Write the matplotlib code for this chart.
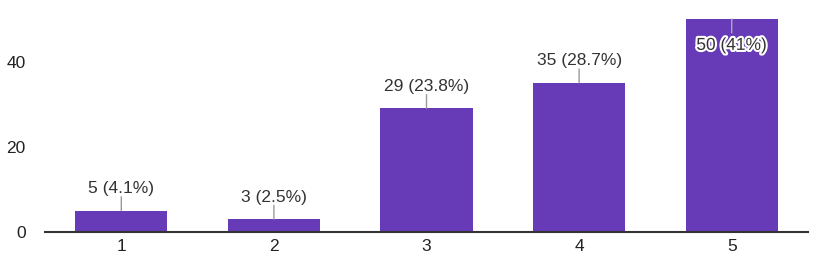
import matplotlib.pyplot as plt
import matplotlib.patheffects as pe

# ratings 1-5 and response counts
ratings = [1, 2, 3, 4, 5]
counts = [5, 3, 29, 35, 50]
labels = ['5 (4.1%)', '3 (2.5%)', '29 (23.8%)', '35 (28.7%)', '50 (41%)']
yticks = [0, 20, 40]

plt.rcParams['font.family'] = ['Liberation Sans', 'DejaVu Sans']

fig = plt.figure(figsize=(8.16, 2.61), dpi=100)
ax = fig.add_axes([45 / 816, 29 / 261, 763 / 816, 213 / 261])

ax.bar(ratings, counts, width=0.605, color='#673ab7', zorder=2)
ax.set_xlim(0.5, 5.5)
ax.set_ylim(0, 50)

ax.set_xticks(ratings)
ax.set_xticklabels([str(r) for r in ratings])
ax.set_yticks(yticks)
ax.tick_params(axis='both', length=0, labelsize=12.5, colors='#222222')
ax.tick_params(axis='y', pad=14)
ax.tick_params(axis='x', pad=5)

for s in ['top', 'right', 'left']:
    ax.spines[s].set_visible(False)
ax.spines['bottom'].set_color('#333333')
ax.spines['bottom'].set_linewidth(1.5)
ax.spines['bottom'].set_zorder(3)

top = ax.get_ylim()[1]
for x, v, lab in zip(ratings, counts, labels):
    if v >= top - 5:
        # label drawn inside the bar, leader going down
        ax.annotate('', xy=(x, v), xytext=(0, -10), textcoords='offset points',
                    arrowprops=dict(arrowstyle='-', color='#aaaaaa', lw=1,
                                    shrinkA=0, shrinkB=0), zorder=4)
        t = ax.annotate(lab, xy=(x, v), xytext=(0, -19), textcoords='offset points',
                        ha='center', va='center', fontsize=12.5, color='#333333',
                        zorder=5)
        t.set_path_effects([pe.withStroke(linewidth=3, foreground='white')])
    else:
        ax.annotate('', xy=(x, v), xytext=(0, 10), textcoords='offset points',
                    arrowprops=dict(arrowstyle='-', color='#999999', lw=1,
                                    shrinkA=0, shrinkB=0), zorder=4)
        ax.annotate(lab, xy=(x, v), xytext=(0, 10.5), textcoords='offset points',
                    ha='center', va='bottom', fontsize=12.5, color='#333333',
                    zorder=5)

fig.savefig('out.png', dpi=100)
